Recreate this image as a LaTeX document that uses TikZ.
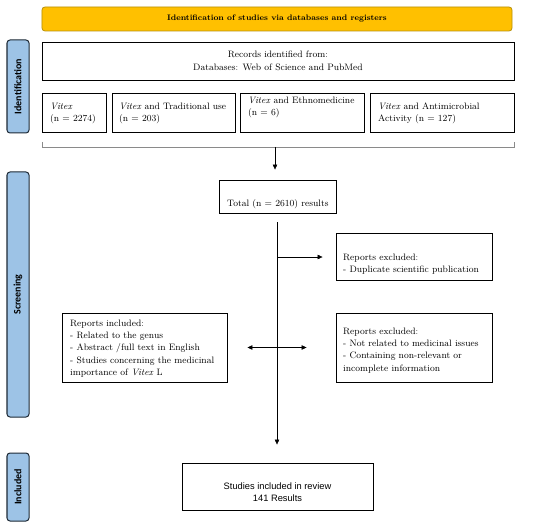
\documentclass[tikz,border=0pt]{standalone}
\usepackage{fontspec}
\newfontfamily\labfont{Carlito}
\newfontfamily\arialfont{Liberation Sans}
\usetikzlibrary{arrows.meta}
\definecolor{yel}{HTML}{FFC000}
\definecolor{yelb}{HTML}{B8900A}
\definecolor{blu}{HTML}{9DC3E6}
\definecolor{blub}{HTML}{1E2A36}
\definecolor{brk}{HTML}{8A8A8A}
\begin{document}
\begin{tikzpicture}[x=1bp,y=-1bp,
  box/.style={draw=black,line width=0.9bp,inner sep=0,fill=white},
  txt/.style={inner sep=0,anchor=north west,align=left,font=\fontsize{9.3bp}{12.3bp}\selectfont},
  phase/.style={draw=blub,fill=blu,rounded corners=3bp,line width=1bp,minimum height=22bp,inner sep=0,rotate=90,font=\labfont\bfseries\fontsize{10bp}{11bp}\selectfont},
  titlebox/.style={draw=yelb,fill=yel,rounded corners=3bp,line width=0.8bp,inner sep=0,font=\bfseries\fontsize{8bp}{10bp}\selectfont},
  arr/.style={-{Triangle[length=5bp,width=4.5bp]},line width=0.5bp},
  darr/.style={{Triangle[length=5bp,width=4.5bp]}-{Triangle[length=5bp,width=4.5bp]},line width=0.5bp},
  bracket/.style={draw=brk,line width=0.6bp}
]
\useasboundingbox[fill=white] (0,0) rectangle (550,526);

% phase labels
\node[phase,minimum width=93bp] (idlab) at (18,86.5) {Identification};
\node[phase,minimum width=245bp] (scrlab) at (18,294.5) {Screening};
\node[phase,minimum width=68bp] (inclab) at (18,487) {Included};

% title
\node[titlebox,minimum width=470bp,minimum height=24bp] (title) at (277,19) {Identification of studies via databases and registers};

% records
\node[box,minimum width=472bp,minimum height=38bp,align=center,font=\fontsize{9.3bp}{12.8bp}\selectfont] (records) at (278,61) {Records identified from:\\Databases: Web of Science and PubMed};

% four search boxes
\node[box,minimum width=64bp,minimum height=39bp] (b1) at (74,112.5) {};
\node[box,minimum width=123bp,minimum height=39bp] (b2) at (173.5,112.5) {};
\node[box,minimum width=124bp,minimum height=39bp] (b3) at (302,112.5) {};
\node[box,minimum width=144bp,minimum height=39bp] (b4) at (442,112.5) {};
\node[txt] (t1) at (50,102.5) {\textit{Vitex}\\(n = 2274)};
\node[txt] (t2) at (119,102.5) {\textit{Vitex} and Traditional use\\(n = 203)};
\node[txt] (t3) at (248,96.5) {\textit{Vitex} and Ethnomedicine\\(n = 6)};
\node[txt] (t4) at (378,102.5) {\textit{Vitex} and Antimicrobial\\Activity (n = 127)};

% bracket
\coordinate (bl) at (42,142);
\coordinate (br) at (514,142);
\coordinate (bc) at (275,147);
\draw[bracket] (bl) -- (42,147) -- (514,147) -- (br);

% total
\node[box,minimum width=117bp,minimum height=33bp] (total) at (277.5,196.5) {};
\node[txt] (tt) at (227,199.5) {Total (n = 2610) results};
\draw[arr,shorten >=10bp] (bc) -- (bc |- total.north);

% exclusions / inclusions
\node[box,minimum width=156bp,minimum height=47bp] (excl1) at (414,256.5) {};
\node[txt] (te1) at (343,253.5) {Reports excluded:\\- Duplicate scientific publication};

\node[box,minimum width=165bp,minimum height=69bp] (incl) at (144.5,347.5) {};
\node[txt] (ti) at (70,319.5) {Reports included:\\- Related to the genus\\- Abstract /full text in English\\- Studies concerning the medicinal\\importance of \textit{Vitex} L};

\node[box,minimum width=156bp,minimum height=69bp] (excl2) at (414,347.5) {};
\node[txt] (te2) at (343,327.5) {Reports excluded:\\- Not related to medicinal issues\\- Containing non-relevant or\\incomplete information};

% studies
\node[box,minimum width=191bp,minimum height=47bp] (studies) at (277.5,486.5) {};
\node[inner sep=0,anchor=north,align=center,font=\arialfont\fontsize{9.3bp}{12bp}\selectfont] (ts) at (277.5,483) {Studies included in review\\141 Results};

% connectors
\coordinate (m1) at (277,222);
\coordinate (j1) at (277,257);
\draw[arr,shorten >=18bp] (m1) -- (m1 |- studies.north);
\draw[arr,shorten >=13bp] (j1) -- (j1 -| excl1.west);
\draw[darr,shorten <=20bp,shorten >=29bp] (incl.east) -- (excl2.west);
\end{tikzpicture}
\end{document}
